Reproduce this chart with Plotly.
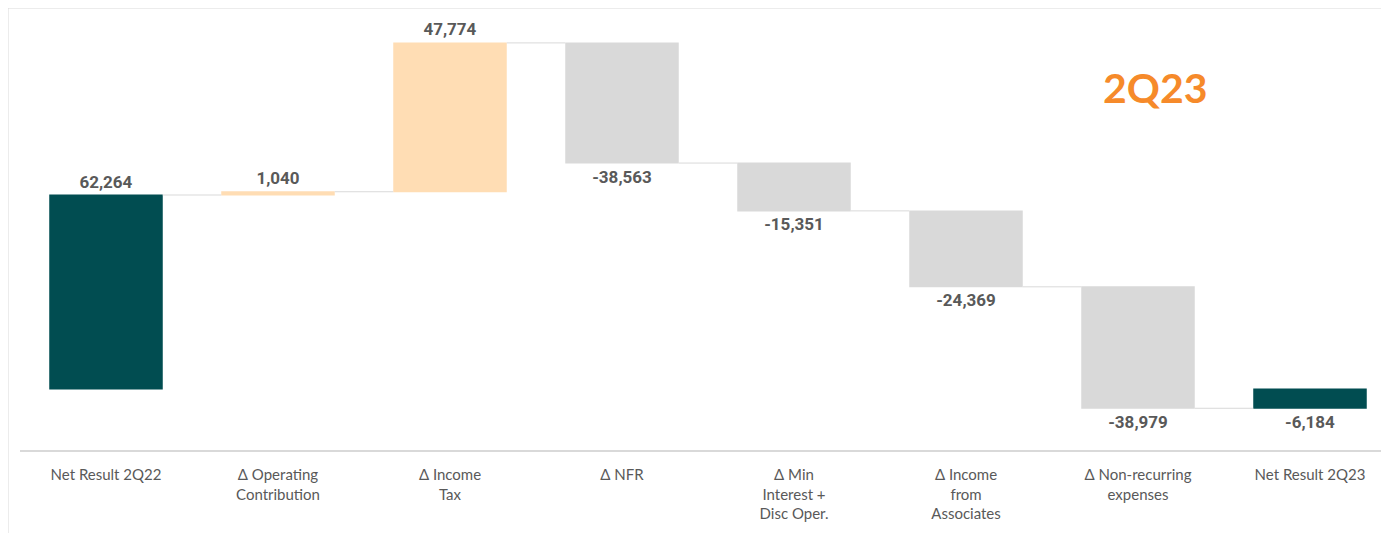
import plotly.graph_objects as go

categories = [
    "Net Result 2Q22",
    "Δ Operating<br>Contribution",
    "Δ Income<br>Tax",
    "Δ NFR",
    "Δ Min<br>Interest +<br>Disc Oper.",
    "Δ Income<br>from<br>Associates",
    "Δ Non-recurring<br>expenses",
    "Net Result 2Q23",
]
values = [62264, 1040, 47774, -38563, -15351, -24369, -38979, -6184]
measures = ["absolute", "relative", "relative", "relative", "relative", "relative", "relative", "total"]
labels = [f"{v:,}" for v in values]

TEAL = "#014D51"
ORANGE_LIGHT = "#FFDDB4"
GRAY = "#D9D9D9"

# page has an 8px body margin; compensate
OFF = 8
W, H = 1389 - OFF, 533 - OFF
L, R, T, B = 20 - OFF, 0, 0, 83
plot_w = W - L - R
plot_h = H - T - B
zero_y = 389 - OFF  # figure px of zero
px_per_unit = (389 - 195) / 62264.0

fig = go.Figure(go.Waterfall(
    x=list(range(len(categories))),
    y=values,
    measure=measures,
    text=labels,
    textposition="outside",
    textfont=dict(family="Roboto", size=17, color="#595959", weight="bold"),
    increasing=dict(marker=dict(color=ORANGE_LIGHT)),
    decreasing=dict(marker=dict(color=GRAY)),
    totals=dict(marker=dict(color=TEAL)),
    connector=dict(line=dict(color=GRAY, width=1)),
    width=0.66,
    cliponaxis=False,
    hoverinfo="skip",
))

fig.update_layout(
    width=W, height=H,
    margin=dict(l=L, r=R, t=T, b=B, autoexpand=False),
    paper_bgcolor="white", plot_bgcolor="white",
    showlegend=False,
    xaxis=dict(
        tickmode="array",
        tickvals=list(range(len(categories))),
        ticktext=categories,
        range=[-0.5, -0.5 + plot_w / 172.0],
        showgrid=False, zeroline=False,
        showline=True, linecolor=GRAY, linewidth=2,
        ticks="", ticklabelstandoff=10,
        tickfont=dict(family="Lato", size=15, color="#595959"),
    ),
    yaxis=dict(
        range=[-(plot_h - zero_y) / px_per_unit, zero_y / px_per_unit],
        visible=False, showgrid=False, zeroline=False,
    ),
    annotations=[dict(
        text="<b>2Q23</b>",
        x=(1155 - 20) / plot_w, y=(450 - 87) / plot_h,
        xref="paper", yref="paper", showarrow=False,
        xanchor="center", yanchor="middle",
        font=dict(family="Lato", size=41, color="#F68A2A"),
    )],
    shapes=[dict(
        type="rect", xref="paper", yref="paper",
        x0=(8 - 20) / plot_w, x1=1.01, y0=-0.3, y1=1.0,
        line=dict(color=GRAY, width=1), layer="below",
    )],
)

fig.write_html("out.html")
